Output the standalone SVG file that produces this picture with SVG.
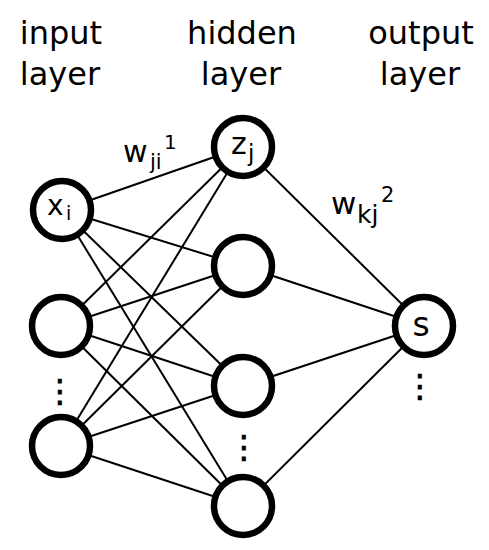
<svg xmlns="http://www.w3.org/2000/svg" width="489" height="550" viewBox="0 0 489 550">
<style>
text{font-family:"DejaVu Sans","Liberation Sans",sans-serif;fill:#000}
.hdr{font-size:32px;text-anchor:middle}
.node{fill:#fff;stroke:#000;stroke-width:6.5}
.edge{stroke:#000;stroke-width:2;fill:none}
.dots{font-size:32px;text-anchor:middle;stroke:#000;stroke-width:0.8}
</style>
<rect width="489" height="550" fill="#fff"/>
<g id="headers">
<text class="hdr" x="61" y="44">input</text>
<text class="hdr" x="60" y="85">layer</text>
<text class="hdr" x="242" y="44">hidden</text>
<text class="hdr" x="241" y="85">layer</text>
<text class="hdr" x="421" y="44">output</text>
<text class="hdr" x="420" y="85">layer</text>
</g>
<g id="connectors">
<line class="edge" x1="62" y1="210" x2="243" y2="147"/>
<line class="edge" x1="62" y1="210" x2="243" y2="266"/>
<line class="edge" x1="62" y1="210" x2="243" y2="386"/>
<line class="edge" x1="62" y1="210" x2="243" y2="506"/>
<line class="edge" x1="61" y1="326" x2="243" y2="147"/>
<line class="edge" x1="61" y1="326" x2="243" y2="266"/>
<line class="edge" x1="61" y1="326" x2="243" y2="386"/>
<line class="edge" x1="61" y1="326" x2="243" y2="506"/>
<line class="edge" x1="61" y1="446" x2="243" y2="147"/>
<line class="edge" x1="61" y1="446" x2="243" y2="266"/>
<line class="edge" x1="61" y1="446" x2="243" y2="386"/>
<line class="edge" x1="61" y1="446" x2="243" y2="506"/>
<line class="edge" x1="243" y1="147" x2="424" y2="326"/>
<line class="edge" x1="243" y1="266" x2="424" y2="326"/>
<line class="edge" x1="243" y1="386" x2="424" y2="326"/>
<line class="edge" x1="243" y1="506" x2="424" y2="326"/>
</g>
<g id="weight-labels">
<text x="123" y="162" font-size="30">w<tspan x="150" y="169" font-size="21">ji</tspan><tspan x="164" y="149" font-size="20">1</tspan></text>
<text x="331" y="214" font-size="31">w<tspan x="357" y="223" font-size="25">kj</tspan><tspan x="381" y="202" font-size="21">2</tspan></text>
</g>
<g id="input-1">
<circle class="node" cx="62" cy="210" r="29"/>
<text x="47" y="215" font-size="28">x<tspan x="66" y="220" font-size="19">i</tspan></text>
</g>
<g id="input-2"><circle class="node" cx="61" cy="326" r="29"/></g>
<g id="input-3"><circle class="node" cx="61" cy="446" r="29"/></g>
<g id="hidden-1">
<circle class="node" cx="243" cy="147" r="29"/>
<text x="231" y="154" font-size="30">z<tspan x="248" y="161" font-size="23">j</tspan></text>
</g>
<g id="hidden-2"><circle class="node" cx="243" cy="266" r="29"/></g>
<g id="hidden-3"><circle class="node" cx="243" cy="386" r="29"/></g>
<g id="hidden-4"><circle class="node" cx="243" cy="506" r="29"/></g>
<g id="output-1">
<circle class="node" cx="424" cy="326" r="29"/>
<text x="421" y="336" font-size="33" text-anchor="middle">s</text>
</g>
<g id="ellipses">
<text class="dots" x="60" y="402">⋮</text>
<text class="dots" x="244" y="458">⋮</text>
<text class="dots" x="420" y="397">⋮</text>
</g>
</svg>
